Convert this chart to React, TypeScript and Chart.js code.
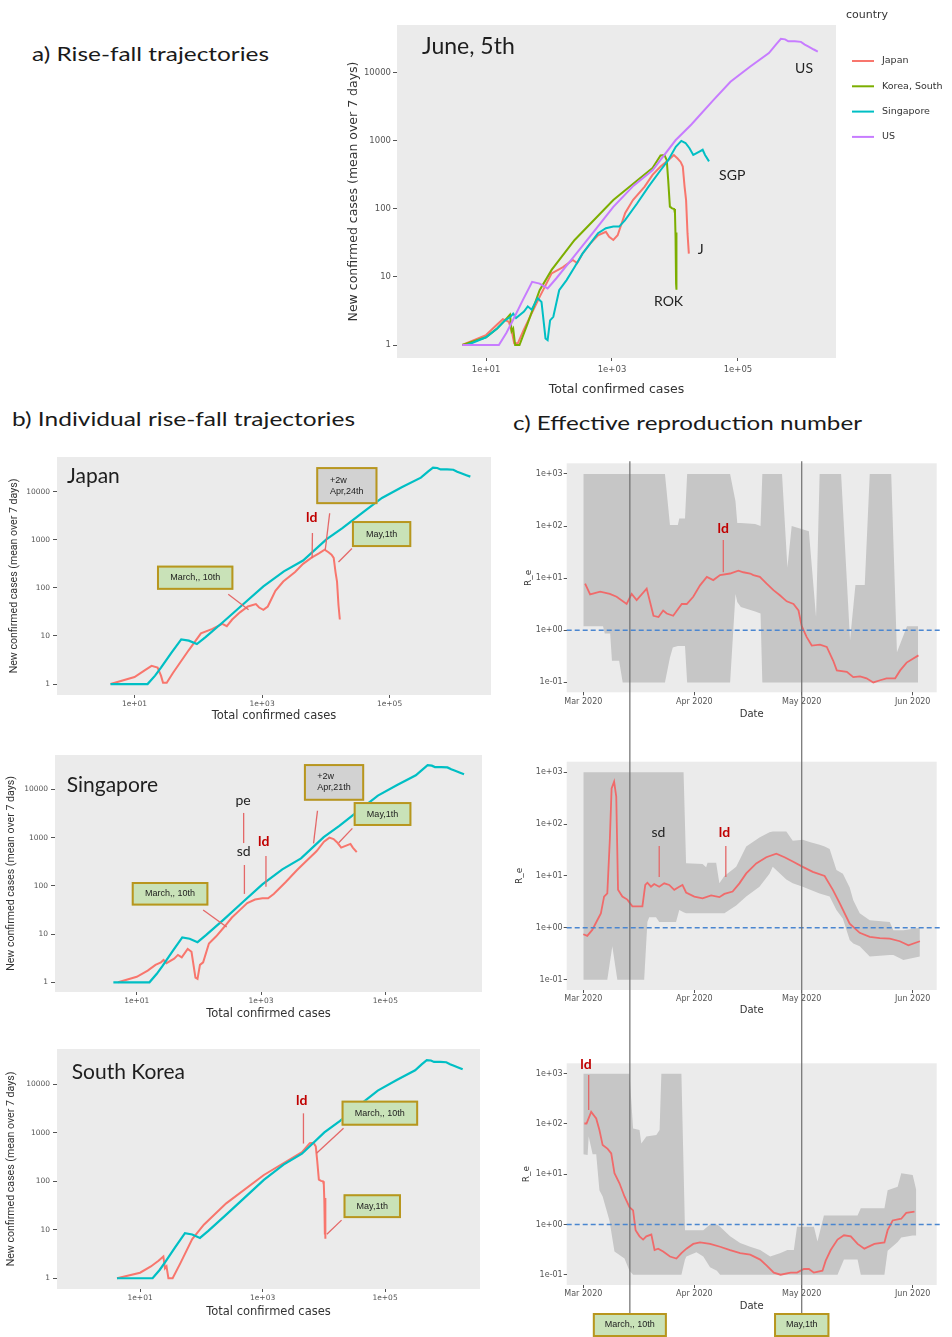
import React, { useEffect, useRef } from 'react';
import { Chart, registerables } from 'chart.js';

Chart.register(...registerables);

// ================= DATA =================
// a) and b): total confirmed cases (x) vs new confirmed cases, mean over 7 days (y)
const usTotal = [4.2, 8, 16, 21, 26, 38, 54, 71, 95, 130, 250, 500, 1050, 2200, 4400, 10200, 18200, 40000, 76000, 155000, 310000, 400000, 480000, 560000, 630000, 800000, 1000000, 1150000, 1300000, 1600000, 1850000];
const usNew = [1, 1, 1, 1.5, 2.2, 4.5, 8.5, 8, 6.8, 9.5, 20, 45, 107, 220, 370, 1020, 1740, 3900, 7400, 12300, 19500, 26000, 31600, 31000, 29000, 29000, 28500, 26000, 24500, 22000, 20500];

const jpTotal = [4.2, 10, 15, 18.5, 23, 26, 28, 32, 40, 71, 110, 167, 238, 280, 340, 450, 600, 800, 900, 1050, 1230, 1620, 2150, 3300, 4400, 5900, 7800, 9600, 11000, 12300, 13300, 14200, 15000, 15800, 16600];
const jpNew = [1, 1.4, 2, 2.4, 2.2, 1.5, 1.06, 1.06, 1.7, 5.1, 11.3, 14, 17.8, 16, 22, 31, 41, 46, 39, 35, 41, 87, 135, 213, 316, 420, 520, 620, 550, 490, 420, 213, 135, 44, 22];

const sgTotal = [5, 10, 15, 20, 24.5, 27, 30, 40, 46, 53, 66, 76, 88, 95, 104, 117, 145, 190, 255, 340, 450, 600, 800, 1050, 1300, 1600, 2500, 3800, 5900, 7800, 10300, 12600, 14700, 17000, 19500, 24000, 27500, 30000, 34700];
const sgNew = [1, 1.3, 1.75, 2.3, 2.6, 2.9, 2.5, 3.1, 3.7, 3.3, 4.9, 4.3, 1.25, 1.18, 2.3, 2.6, 6.4, 9, 14, 22, 31, 44, 52, 55, 55, 68, 120, 213, 370, 520, 820, 1000, 930, 780, 620, 690, 740, 620, 500];

const krTotal = [4.2, 10, 15, 20, 24, 25.5, 27, 29, 34, 46, 71, 110, 255, 1050, 4400, 5900, 6800, 7400, 7800, 8300, 9000, 9700, 10000, 10200, 10400, 10500, 10600];
const krNew = [1, 1.3, 1.75, 2.3, 2.8, 1.6, 1.75, 1, 1, 2.1, 6.4, 12.7, 35, 135, 400, 610, 620, 520, 265, 108, 102, 100, 86, 40, 8, 45, 6.5];

const trajXTicks = [10, 1000, 100000];
const trajXTickLabels = ['1e+01', '1e+03', '1e+05'];
const trajYTicks = [1, 10, 100, 1000, 10000];
const trajYTickLabels = ['1', '10', '100', '1000', '10000'];

// c) effective reproduction number: days since 1 Mar 2020
const jpReDay = [0.5, 1.9, 4.7, 7.4, 9.3, 12.1, 13.5, 14.9, 17.7, 19.6, 21, 22.3, 23.3, 25.1, 27.5, 28.9, 30.7, 32.6, 34.5, 36.3, 38.2, 41, 43.3, 44.7, 46.6, 47.5, 49.3, 51.2, 53.1, 54.9, 56.8, 58.7, 60.1, 61, 62.4, 63.8, 66.1, 68, 69.8, 70.8, 73.6, 75.4, 77.3, 79.1, 81, 82.9, 84.7, 87.1, 88.5, 90.3, 93.6];
const jpRe = [7.9, 4.9, 5.5, 5.0, 4.4, 3.2, 5.0, 3.8, 6.3, 1.9, 1.8, 2.4, 2.1, 1.9, 3.2, 3.2, 4.4, 7.3, 10.6, 9.2, 11.5, 12.3, 14, 13, 12.3, 11.5, 10.6, 7.9, 5.9, 4.7, 3.6, 3.2, 2.4, 1.2, 0.74, 0.51, 0.53, 0.48, 0.26, 0.17, 0.16, 0.126, 0.13, 0.12, 0.10, 0.11, 0.12, 0.12, 0.17, 0.24, 0.33];
const jpBandDay = [0, 5.5, 6, 7.5, 8, 10, 11, 22.8, 24.2, 25, 26.4, 26.8, 28.4, 29, 41, 42.5, 43, 44, 48, 49.5, 50, 55.5, 57, 58.2, 63, 65, 66, 72, 74.5, 76, 78.6, 80, 86, 87.6, 90.4, 93.5];
const jpBandHi = [1000, 1000, 1000, 1000, 1000, 1000, 1000, 1000, 105, 105, 105, 140, 140, 1000, 1000, 300, 115, 115, 110, 100, 1000, 1000, 16, 100, 80, 1.8, 1000, 1000, 0.65, 7.4, 7.4, 1000, 1000, 0.38, 1.2, 1.2];
const jpBandLo = [1.2, 1.2, 0.87, 0.87, 0.26, 0.26, 0.1, 0.1, 0.3, 0.47, 0.5, 0.5, 0.5, 0.1, 0.1, 5, 3.5, 2.8, 2.3, 2.1, 0.1, 0.1, 0.1, 0.1, 0.1, 0.1, 0.1, 0.1, 0.1, 0.1, 0.1, 0.1, 0.1, 0.1, 0.1, 0.1];

const sgReDay = [0, 1.1, 2.5, 3.9, 4.9, 5.8, 6.7, 7.4, 7.9, 8.6, 9.2, 9.7, 10.9, 12.3, 13.7, 16.5, 17.3, 17.9, 18.9, 19.8, 21.2, 22.6, 24, 25.4, 26.8, 27.7, 28.7, 31, 33.3, 35.7, 38, 39.4, 41.7, 43.6, 45.5, 48.3, 51.1, 53.9, 56.2, 58.5, 61.3, 64.1, 67.4, 69.7, 71.6, 74.4, 77.2, 80, 82.8, 85.6, 88.4, 90.8, 94];
const sgRe = [0.75, 0.70, 0.91, 1.4, 1.9, 4, 4.6, 49, 490, 660, 340, 5.4, 4, 3.5, 2.6, 2.6, 6.7, 7.4, 6.2, 7, 6.2, 7.2, 6.7, 5.4, 6.2, 6.7, 4.8, 4, 3.7, 4.2, 3.9, 4.5, 5, 7.2, 11.2, 17.5, 23, 27, 23, 19, 15, 12, 10, 5.4, 3, 1.2, 0.8, 0.67, 0.63, 0.62, 0.55, 0.46, 0.55];
const sgBandDay = [0, 6.7, 8.1, 9.5, 17, 17.9, 18.4, 20.3, 21.2, 25.9, 26.8, 28, 28.7, 33.3, 34.3, 34.7, 37.1, 38, 39.4, 42.7, 45.5, 49.2, 52, 52.9, 56.7, 58.5, 61.3, 63.2, 66, 67.4, 68.8, 70.7, 72.5, 74.4, 75.4, 77.2, 80, 85.6, 86.6, 89.4, 94];
const sgBandHi = [1000, 1000, 1000, 1000, 1000, 1000, 1000, 1000, 1000, 1000, 1000, 1000, 17.5, 17, 14.7, 18, 18, 7.2, 10, 15, 37, 55, 70, 72, 72, 48, 50, 45, 40, 37, 33, 13, 11, 6, 3.4, 1.9, 1.4, 1.3, 0.9, 0.9, 1.0];
const sgBandLo = [0.1, 0.1, 0.44, 0.1, 0.1, 1.3, 1.6, 1.6, 1.3, 1.3, 2.2, 2.0, 1.9, 1.9, 1.9, 1.9, 1.9, 1.9, 1.9, 2.7, 4, 6.2, 11, 15, 8.5, 7.2, 6.2, 5.5, 4.6, 4.3, 4, 2.2, 1.5, 0.58, 0.5, 0.44, 0.28, 0.3, 0.3, 0.24, 0.28];

const krReDay = [0.3, 0.9, 2.2, 3.6, 4.5, 5.4, 6.8, 7.8, 8.7, 10.1, 11.5, 12.9, 13.9, 14.6, 15.7, 16.7, 17.6, 19, 19.9, 20.9, 22.3, 24.2, 26, 27.4, 28.8, 30.7, 32.6, 35.4, 38.2, 41, 43.8, 46.6, 49.4, 51.3, 53.2, 55.1, 57.9, 59.7, 61.6, 63, 64.4, 66.8, 67.7, 69.1, 71, 72.8, 74.7, 76.6, 78.5, 81.3, 84.1, 85, 86.4, 88.8, 90.2, 92.5];
const krRe = [102, 102, 174, 129, 76, 38, 32, 26, 10.5, 6.6, 3.6, 2.2, 1.9, 0.77, 0.58, 0.5, 0.58, 0.63, 0.31, 0.33, 0.29, 0.23, 0.21, 0.27, 0.33, 0.41, 0.44, 0.41, 0.36, 0.31, 0.27, 0.25, 0.2, 0.15, 0.11, 0.1, 0.11, 0.11, 0.13, 0.13, 0.11, 0.12, 0.19, 0.31, 0.5, 0.61, 0.58, 0.41, 0.33, 0.41, 0.44, 0.77, 1.2, 1.3, 1.7, 1.8];
const krBandDay = [0, 1.2, 1.5, 2.6, 3.6, 4.5, 5.4, 7.3, 8.7, 11.5, 12.9, 13.9, 15.7, 16.2, 17.6, 20.4, 21.3, 21.8, 27.4, 28.4, 28.8, 31.6, 33.5, 35.4, 37.3, 38.2, 41, 43.8, 46.6, 49.4, 52.2, 55.1, 57, 58.8, 59.7, 64.4, 65.4, 67.2, 71, 72.8, 76.6, 77.5, 84.1, 85, 87.8, 88.8, 92, 93];
const krBandHi = [1000, 1000, 1000, 1000, 1000, 1000, 1000, 1000, 1000, 1000, 1000, 81, 76, 41, 56, 60, 76, 1000, 1000, 0.77, 0.77, 0.77, 0.77, 1.0, 1.0, 0.9, 0.58, 0.43, 0.36, 0.31, 0.23, 0.27, 0.31, 0.31, 0.9, 0.9, 0.46, 1.5, 1.5, 1.5, 1.5, 2.1, 2.1, 4.8, 5.6, 10.4, 9.6, 4.8];
const krBandLo = [25, 24, 56, 25, 25, 4.8, 3.6, 1.2, 0.29, 0.21, 0.12, 0.1, 0.1, 0.1, 0.1, 0.1, 0.1, 0.1, 0.1, 0.2, 0.23, 0.28, 0.23, 0.14, 0.12, 0.1, 0.1, 0.1, 0.1, 0.1, 0.1, 0.1, 0.1, 0.1, 0.1, 0.1, 0.1, 0.1, 0.1, 0.2, 0.2, 0.1, 0.1, 0.3, 0.45, 0.55, 0.6, 0.6];

const monthTickDays = [0, 31, 61, 92];
const monthTickLabels = ['Mar 2020', 'Apr 2020', 'May 2020', 'Jun 2020'];
const reYTicks = [0.1, 1, 10, 100, 1000];
const reYTickLabels = ['1e-01', '1e+00', '1e+01', '1e+02', '1e+03'];
const markerDays = [13, 61];
const markerLabels = ['March,, 10th', 'May,1th'];

// ================= STYLE =================
const COL_JP = '#F8766D';
const COL_KR = '#7CAE00';
const COL_SG = '#00BFC4';
const COL_US = '#C77CFF';
const PANEL_BG = '#EBEBEB';
const BAND = '#C6C6C6';
const RE_RED = '#F06A6A';
const SEG = '#E46868';
const TICK_FONT = 'DejaVu Sans';

type Ann =
  | { t: 'seg'; x0: number; y0: number; x1: number; y1: number }
  | { t: 'box'; x0: number; x1: number; y0: number; y1: number; lines: string[]; gray?: boolean }
  | { t: 'text'; x: number; y: number; text: string; kind: 'ld' | 'plain' };

const aNotes: Ann[] = [
  { t: 'text', x: 1.12e6, y: 11600, text: 'US', kind: 'plain' },
  { t: 'text', x: 81000, y: 305, text: 'SGP', kind: 'plain' },
  { t: 'text', x: 25700, y: 25, text: 'J', kind: 'plain' },
  { t: 'text', x: 7900, y: 4.4, text: 'ROK', kind: 'plain' },
];
const jpBNotes: Ann[] = [
  { t: 'box', x0: 22.5, x1: 355, y0: 91, y1: 290, lines: ['March,, 10th'] },
  { t: 'seg', x0: 295, y0: 74, x1: 615, y1: 35 },
  { t: 'text', x: 6000, y: 2840, text: 'ld', kind: 'ld' },
  { t: 'seg', x0: 6170, y0: 1380, x1: 6100, y1: 415 },
  { t: 'box', x0: 7080, x1: 64600, y0: 5500, y1: 32400, lines: ['+2w', 'Apr,24th'], gray: true },
  { t: 'seg', x0: 11500, y0: 3550, x1: 9800, y1: 615 },
  { t: 'box', x0: 25700, x1: 219000, y0: 705, y1: 2450, lines: ['May,1th'] },
  { t: 'seg', x0: 25700, y0: 660, x1: 15800, y1: 345 },
];
const sgBNotes: Ann[] = [
  { t: 'box', x0: 8.3, x1: 142, y0: 39, y1: 120, lines: ['March,, 10th'] },
  { t: 'seg', x0: 117, y0: 31.6, x1: 280, y1: 14 },
  { t: 'text', x: 513, y: 5750, text: 'pe', kind: 'plain' },
  { t: 'seg', x0: 525, y0: 3240, x1: 525, y1: 770 },
  { t: 'text', x: 525, y: 515, text: 'sd', kind: 'plain' },
  { t: 'seg', x0: 540, y0: 270, x1: 540, y1: 68 },
  { t: 'text', x: 1100, y: 815, text: 'ld', kind: 'ld' },
  { t: 'seg', x0: 1200, y0: 415, x1: 1200, y1: 96 },
  { t: 'box', x0: 4900, x1: 45700, y0: 5800, y1: 33400, lines: ['+2w', 'Apr,21th'], gray: true },
  { t: 'seg', x0: 8100, y0: 3600, x1: 7000, y1: 760 },
  { t: 'box', x0: 31000, x1: 263000, y0: 1740, y1: 5450, lines: ['May,1th'] },
  { t: 'seg', x0: 29500, y0: 1550, x1: 17800, y1: 780 },
];
const krBNotes: Ann[] = [
  { t: 'text', x: 4370, y: 4750, text: 'ld', kind: 'ld' },
  { t: 'seg', x0: 4650, y0: 2520, x1: 4650, y1: 600 },
  { t: 'box', x0: 19500, x1: 347000, y0: 1400, y1: 4600, lines: ['March,, 10th'] },
  { t: 'seg', x0: 21000, y0: 1240, x1: 7600, y1: 380 },
  { t: 'box', x0: 21000, x1: 182000, y0: 17.4, y1: 54, lines: ['May,1th'] },
  { t: 'seg', x0: 19500, y0: 15.8, x1: 11200, y1: 8.1 },
];
const jpCNotes: Ann[] = [
  { t: 'text', x: 39.1, y: 91, text: 'ld', kind: 'ld' },
  { t: 'seg', x0: 39.1, y0: 54, x1: 39.1, y1: 13 },
];
const sgCNotes: Ann[] = [
  { t: 'text', x: 21, y: 68, text: 'sd', kind: 'plain' },
  { t: 'seg', x0: 21.2, y0: 38, x1: 21.2, y1: 9.6 },
  { t: 'text', x: 39.4, y: 68, text: 'ld', kind: 'ld' },
  { t: 'seg', x0: 39.8, y0: 38, x1: 39.8, y1: 9.6 },
];
const krCNotes: Ann[] = [
  { t: 'text', x: 0.75, y: 1500, text: 'ld', kind: 'ld' },
  { t: 'seg', x0: 1.5, y0: 940, x1: 1.5, y1: 190 },
];

// ================= HELPERS =================
const pts = (xs: number[], ys: number[]) => xs.map((x, i) => ({ x, y: ys[i] }));

interface Frame { left: number; top: number; width: number; height: number; pl: number; pt: number; pr: number; pb: number }

function axis(o: any) {
  const horizontal = o.horizontal;
  return {
    type: o.type,
    position: horizontal ? 'bottom' : 'left',
    min: o.min,
    max: o.max,
    bounds: 'data',
    afterBuildTicks: (ax: any) => { ax.ticks = o.ticks.map((v: number) => ({ value: v })); },
    afterFit: (ax: any) => { if (horizontal) ax.height = o.size; else ax.width = o.size; },
    ticks: {
      autoSkip: false, maxRotation: 0, minRotation: 0, padding: o.pad, color: '#555',
      font: { family: TICK_FONT, size: o.fs },
      callback: (_v: any, i: number) => o.labels[i],
    },
    grid: { display: true, drawOnChartArea: false, drawTicks: true, tickLength: o.tl, tickColor: '#555', tickWidth: 1 },
    border: { display: false },
    title: {
      display: true, text: o.title, color: '#333', font: o.tf,
      padding: horizontal ? { top: 0, bottom: o.tp } : { top: o.tp, bottom: 0 },
    },
  };
}

function drawNotes(chart: any, notes: Ann[]) {
  const { ctx } = chart;
  const X = (v: number) => chart.scales.x.getPixelForValue(v);
  const Y = (v: number) => chart.scales.y.getPixelForValue(v);
  ctx.save();
  for (const n of notes) {
    if (n.t === 'seg') {
      ctx.strokeStyle = SEG;
      ctx.lineWidth = 1.3;
      ctx.beginPath();
      ctx.moveTo(X(n.x0), Y(n.y0));
      ctx.lineTo(X(n.x1), Y(n.y1));
      ctx.stroke();
    } else if (n.t === 'box') {
      const l = X(n.x0), r = X(n.x1), t = Y(n.y1), b = Y(n.y0);
      drawBox(ctx, l, t, r - l, b - t, n.lines, !!n.gray);
    } else {
      ctx.fillStyle = n.kind === 'ld' ? '#C00000' : '#222';
      ctx.font = n.kind === 'ld' ? 'bold 14px Lato' : '14px Lato';
      ctx.textAlign = 'center';
      ctx.textBaseline = 'middle';
      ctx.fillText(n.text, X(n.x), Y(n.y));
    }
  }
  ctx.restore();
}

function drawBox(ctx: any, l: number, t: number, w: number, h: number, lines: string[], gray: boolean) {
  ctx.fillStyle = gray ? '#D2D2D2' : '#C9E2B8';
  ctx.fillRect(l, t, w, h);
  ctx.strokeStyle = '#B8961E';
  ctx.lineWidth = 2;
  ctx.strokeRect(l + 1, t + 1, w - 2, h - 2);
  ctx.fillStyle = '#222';
  ctx.font = '9px "Liberation Sans"';
  ctx.textBaseline = 'middle';
  ctx.textAlign = 'left';
  const maxW = Math.max(...lines.map((s) => ctx.measureText(s).width));
  const x0 = l + w / 2 - maxW / 2;
  const lh = 11;
  const y0 = t + h / 2 - ((lines.length - 1) * lh) / 2;
  lines.forEach((s, i) => ctx.fillText(s, x0, y0 + i * lh));
}

function decor(cfg: {
  label?: { text: string; dx: number; dy: number; font: string };
  notes?: Ann[];
  hline?: number;
  markers?: { fromArea: boolean; toY?: number; boxes?: boolean };
  legend?: boolean;
}) {
  return {
    id: 'decor',
    beforeDraw(chart: any) {
      const { ctx, chartArea: a } = chart;
      ctx.save();
      ctx.fillStyle = PANEL_BG;
      ctx.fillRect(a.left, a.top, a.right - a.left, a.bottom - a.top);
      ctx.restore();
    },
    afterDatasetsDraw(chart: any) {
      if (cfg.hline === undefined) return;
      const { ctx, chartArea: a } = chart;
      const y = chart.scales.y.getPixelForValue(cfg.hline);
      ctx.save();
      ctx.strokeStyle = '#4A86D0';
      ctx.lineWidth = 1.5;
      ctx.setLineDash([5, 3]);
      ctx.beginPath();
      ctx.moveTo(a.left, y);
      ctx.lineTo(a.right + 3, y);
      ctx.stroke();
      ctx.restore();
    },
    afterDraw(chart: any) {
      const { ctx, chartArea: a } = chart;
      if (cfg.label) {
        ctx.save();
        ctx.fillStyle = '#1E1E1E';
        ctx.font = cfg.label.font;
        ctx.textAlign = 'left';
        ctx.textBaseline = 'middle';
        ctx.fillText(cfg.label.text, a.left + cfg.label.dx, a.top + cfg.label.dy);
        ctx.restore();
      }
      if (cfg.notes) drawNotes(chart, cfg.notes);
      if (cfg.legend) {
        ctx.save();
        ctx.fillStyle = '#333';
        ctx.font = '11px "DejaVu Sans"';
        ctx.textAlign = 'left';
        ctx.textBaseline = 'middle';
        ctx.fillText('country', a.right + 10, 15);
        ctx.font = '9.5px "DejaVu Sans"';
        chart.data.datasets.forEach((ds: any, i: number) => {
          const y = 61 + i * 25.3;
          ctx.strokeStyle = ds.borderColor;
          ctx.lineWidth = 2;
          ctx.beginPath();
          ctx.moveTo(a.right + 16, y);
          ctx.lineTo(a.right + 38, y);
          ctx.stroke();
          ctx.fillStyle = '#333';
          ctx.fillText(ds.label, a.right + 46, y);
        });
        ctx.restore();
      }
      if (cfg.markers) {
        const top = cfg.markers.fromArea ? a.top - 2 : 0;
        const bottom = cfg.markers.toY ?? chart.height;
        ctx.save();
        markerDays.forEach((d, i) => {
          const x = chart.scales.x.getPixelForValue(d);
          ctx.strokeStyle = '#6E6E6E';
          ctx.lineWidth = 1.2;
          ctx.beginPath();
          ctx.moveTo(x, top);
          ctx.lineTo(x, bottom);
          ctx.stroke();
          if (cfg.markers!.boxes) {
            ctx.font = '9px "Liberation Sans"';
            const w = ctx.measureText(markerLabels[i]).width + 24;
            drawBox(ctx, x - w / 2, bottom, w, 24, [markerLabels[i]], false);
          }
        });
        ctx.restore();
      }
    },
  };
}

function baseOptions(f: Frame, scales: any) {
  return {
    animation: false,
    responsive: false,
    events: [],
    layout: { padding: { left: 0, top: f.pt, right: f.width - f.pr, bottom: 0 } },
    plugins: { legend: { display: false }, tooltip: { enabled: false } },
    elements: { point: { radius: 0 }, line: { tension: 0 } },
    scales,
  };
}

// ================= CHART CONFIGS =================
const frameA: Frame = { left: 340, top: 0, width: 612, height: 400, pl: 57, pt: 25, pr: 496, pb: 358 };

function configA() {
  const f = frameA;
  return {
    type: 'line',
    data: {
      datasets: [
        { label: 'Japan', data: pts(jpTotal, jpNew), borderColor: COL_JP, borderWidth: 2, order: 3 },
        { label: 'Korea, South', data: pts(krTotal, krNew), borderColor: COL_KR, borderWidth: 2, order: 2 },
        { label: 'Singapore', data: pts(sgTotal, sgNew), borderColor: COL_SG, borderWidth: 2, order: 1 },
        { label: 'US', data: pts(usTotal, usNew), borderColor: COL_US, borderWidth: 2, order: 0 },
      ],
    },
    options: baseOptions(f, {
      x: axis({ type: 'logarithmic', horizontal: true, min: 0.386, max: 3.6e6, ticks: trajXTicks, labels: trajXTickLabels, size: f.height - f.pb, fs: 8.5, tl: 3, pad: 4, title: 'Total confirmed cases', tf: { family: 'DejaVu Sans', size: 12.5 }, tp: 2.5 }),
      y: axis({ type: 'logarithmic', horizontal: false, min: 0.645, max: 50400, ticks: trajYTicks, labels: trajYTickLabels, size: f.pl, fs: 8.5, tl: 4, pad: 2, title: 'New confirmed cases (mean over 7 days)', tf: { family: 'DejaVu Sans', size: 12.5 }, tp: 6.5 }),
    }),
    plugins: [decor({ label: { text: 'June, 5th', dx: 25, dy: 21.7, font: '23px Lato' }, notes: aNotes, legend: true })],
  };
}

function configB(o: { f: Frame; total: number[]; news: number[]; xr: [number, number]; yr: [number, number]; label: string; ldx: number; ldy: number; notes: Ann[]; yTitleX: number; xTitleOff: number }) {
  const f = o.f;
  const yTitleFont = { family: "'Liberation Sans Narrow', Roboto", size: 10.6 };
  return {
    type: 'line',
    data: {
      datasets: [
        { label: o.label, data: pts(o.total, o.news), borderColor: COL_JP, borderWidth: 2, order: 1 },
        { label: 'US', data: pts(usTotal, usNew), borderColor: COL_SG, borderWidth: 2.2, order: 0 },
      ],
    },
    options: baseOptions(f, {
      x: axis({ type: 'logarithmic', horizontal: true, min: o.xr[0], max: o.xr[1], ticks: trajXTicks, labels: trajXTickLabels, size: f.height - f.pb, fs: 7.5, tl: 3, pad: 1.5, title: 'Total confirmed cases', tf: { family: 'DejaVu Sans', size: 11.5 }, tp: o.xTitleOff - 6.9 }),
      y: axis({ type: 'logarithmic', horizontal: false, min: o.yr[0], max: o.yr[1], ticks: trajYTicks, labels: trajYTickLabels, size: f.pl, fs: 7.5, tl: 4, pad: 3, title: 'New confirmed cases (mean over 7 days)', tf: yTitleFont, tp: o.yTitleX - 6.4 }),
    }),
    plugins: [decor({ label: { text: o.label, dx: o.ldx, dy: o.ldy, font: '21px Lato' }, notes: o.notes })],
  };
}

function configC(o: { f: Frame; day: number[]; re: number[]; bDay: number[]; hi: number[]; lo: number[]; yr: [number, number]; notes: Ann[]; yTitleX: number; xTitleOff: number; first: boolean; last: boolean }) {
  const f = o.f;
  return {
    type: 'line',
    data: {
      datasets: [
        { label: 'upper', data: pts(o.bDay, o.hi), borderWidth: 0, borderColor: 'rgba(0,0,0,0)', backgroundColor: BAND, fill: '+1', order: 2 },
        { label: 'lower', data: pts(o.bDay, o.lo), borderWidth: 0, borderColor: 'rgba(0,0,0,0)', fill: false, order: 2 },
        { label: 'R_e', data: pts(o.day, o.re), borderColor: RE_RED, borderWidth: 1.8, fill: false, order: 1 },
      ],
    },
    options: baseOptions(f, {
      x: axis({ type: 'linear', horizontal: true, min: -4.64, max: 98.7, ticks: monthTickDays, labels: monthTickLabels, size: f.height - f.pb, fs: 8, tl: 3, pad: 1.5, title: 'Date', tf: { family: 'DejaVu Sans', size: 10 }, tp: o.xTitleOff - 6 }),
      y: axis({ type: 'logarithmic', horizontal: false, min: o.yr[0], max: o.yr[1], ticks: reYTicks, labels: reYTickLabels, size: f.pl, fs: 8, tl: 3, pad: 1, title: 'R_e', tf: { family: 'DejaVu Sans', size: 9 }, tp: o.yTitleX - 5.4 }),
    }),
    plugins: [decor({ notes: o.notes, hline: 1, markers: { fromArea: o.first, toY: o.last ? 283 : undefined, boxes: o.last } })],
  };
}

const frameBJ: Frame = { left: 0, top: 440, width: 500, height: 290, pl: 57, pt: 17, pr: 491, pb: 255 };
const frameBS: Frame = { left: 0, top: 740, width: 500, height: 290, pl: 55, pt: 15, pr: 482, pb: 252 };
const frameBK: Frame = { left: 0, top: 1030, width: 500, height: 307, pl: 57, pt: 19, pr: 480, pb: 259 };
const frameCJ: Frame = { left: 500, top: 440, width: 452, height: 300, pl: 66.7, pt: 23.3, pr: 436.7, pb: 252.3 };
const frameCS: Frame = { left: 500, top: 740, width: 452, height: 290, pl: 66.7, pt: 21.7, pr: 436.7, pb: 250 };
const frameCK: Frame = { left: 500, top: 1030, width: 452, height: 307, pl: 66.7, pt: 33.3, pr: 436.7, pb: 255 };

// ================= COMPONENTS =================
function ChartBox({ f, make }: { f: Frame; make: () => any }) {
  const ref = useRef<HTMLCanvasElement>(null);
  useEffect(() => {
    const chart = new Chart(ref.current as HTMLCanvasElement, make());
    return () => chart.destroy();
  }, []);
  return (
    <canvas
      ref={ref}
      width={f.width}
      height={f.height}
      style={{ position: 'absolute', left: f.left, top: f.top, width: f.width, height: f.height }}
    />
  );
}

function FitText({ text, left, cy, width, font }: { text: string; left: number; cy: number; width: number; font: string }) {
  const c = document.createElement('canvas').getContext('2d') as CanvasRenderingContext2D;
  c.font = font;
  const k = width / c.measureText(text).width;
  return (
    <div
      style={{
        position: 'absolute', left, top: cy, font, color: '#1A1A1A', whiteSpace: 'nowrap', lineHeight: 1,
        transformOrigin: '0 50%', transform: `translateY(-50%) scaleX(${k})`,
      }}
    >
      {text}
    </div>
  );
}

export default function App() {
  return (
    <div style={{ position: 'absolute', left: 0, top: 0, width: 952, height: 1337, background: '#fff', overflow: 'hidden' }}>
      <FitText text="a) Rise-fall trajectories" left={32} cy={53} width={237} font="20px Lato" />
      <FitText text="b) Individual rise-fall trajectories" left={12} cy={418} width={343} font="20px Lato" />
      <FitText text="c) Effective reproduction number" left={513} cy={422} width={349} font="20px Lato" />

      <ChartBox f={frameA} make={configA} />

      <ChartBox f={frameBJ} make={() => configB({ f: frameBJ, total: jpTotal, news: jpNew, xr: [0.608, 3.9e6], yr: [0.593, 52500], label: 'Japan', ldx: 10, ldy: 19.7, notes: jpBNotes, yTitleX: 14, xTitleOff: 14 })} />
      <ChartBox f={frameBS} make={() => configB({ f: frameBS, total: sgTotal, news: sgNew, xr: [0.483, 3.6e6], yr: [0.63, 51500], label: 'Singapore', ldx: 11.7, ldy: 30, notes: sgBNotes, yTitleX: 11, xTitleOff: 16 })} />
      <ChartBox f={frameBK} make={() => configB({ f: frameBK, total: krTotal, news: krNew, xr: [0.44, 3.55e6], yr: [0.6, 53500], label: 'South Korea', ldx: 14.7, ldy: 23.7, notes: krBNotes, yTitleX: 11, xTitleOff: 25.3 })} />

      <ChartBox f={frameCJ} make={() => configC({ f: frameCJ, day: jpReDay, re: jpRe, bDay: jpBandDay, hi: jpBandHi, lo: jpBandLo, yr: [0.0646, 1603], notes: jpCNotes, yTitleX: 28.3, xTitleOff: 26, first: true, last: false })} />
      <ChartBox f={frameCS} make={() => configC({ f: frameCS, day: sgReDay, re: sgRe, bDay: sgBandDay, hi: sgBandHi, lo: sgBandLo, yr: [0.0631, 1600], notes: sgCNotes, yTitleX: 20, xTitleOff: 19.3, first: false, last: false })} />
      <ChartBox f={frameCK} make={() => configC({ f: frameCK, day: krReDay, re: krRe, bDay: krBandDay, hi: krBandHi, lo: krBandLo, yr: [0.0624, 1611], notes: krCNotes, yTitleX: 26.7, xTitleOff: 31, first: false, last: true })} />
    </div>
  );
}
